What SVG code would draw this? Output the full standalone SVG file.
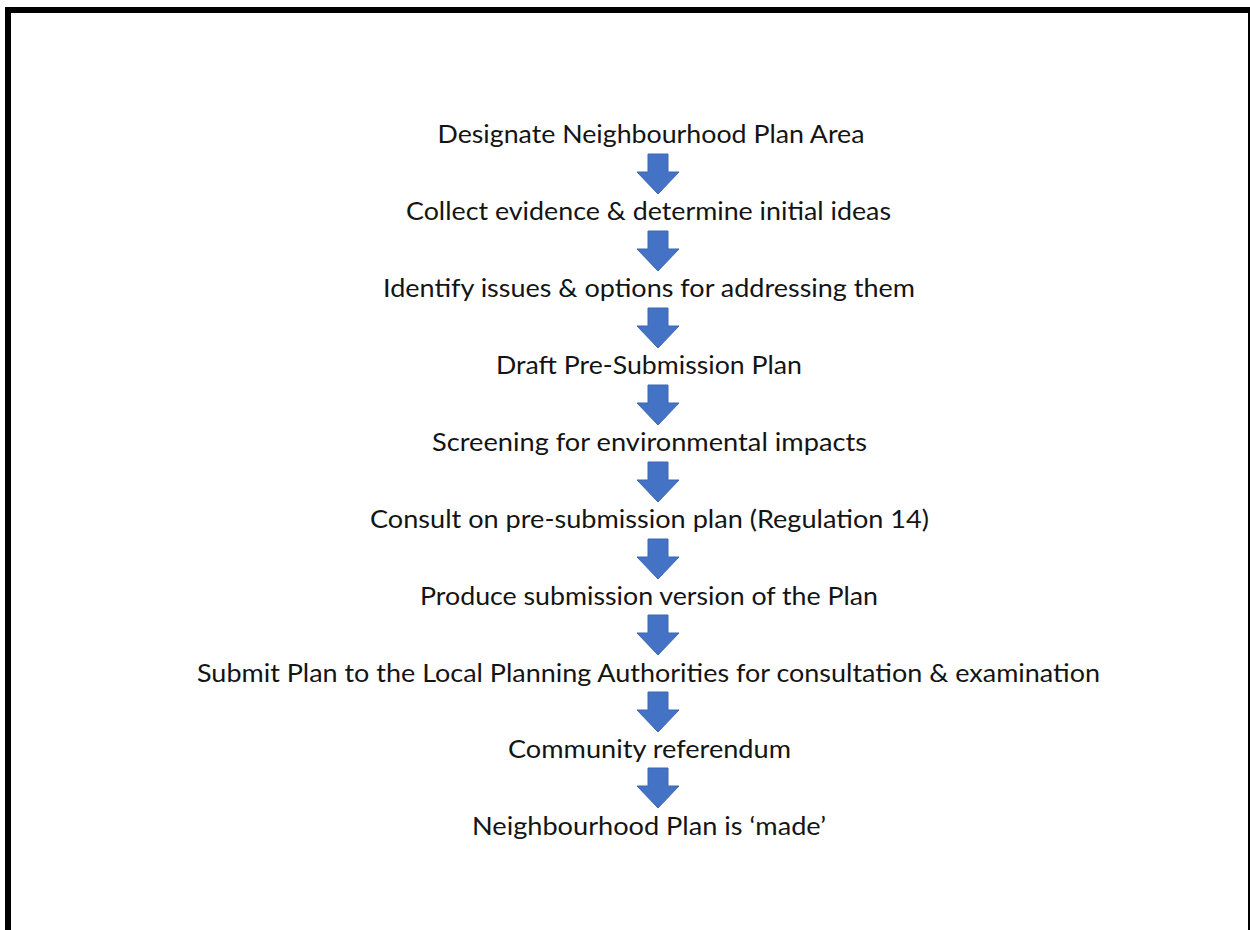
<svg xmlns="http://www.w3.org/2000/svg" xmlns:xlink="http://www.w3.org/1999/xlink" width="1250" height="930" viewBox="0 0 1250 930">
  <style>
    .lbl { font-family: "Lato", "Liberation Sans", sans-serif; font-size: 24.5px; fill: #141414; text-anchor: middle; }
    .arrow { fill: #4472C4; stroke: #3d67b3; stroke-width: 1; }
  </style>
  <defs>
    <path id="arr" d="M -10,0 H 10 V 18 H 21 L 0,40 L -21,18 H -10 Z"/>
  </defs>
  <rect x="0" y="0" width="1250" height="930" fill="#ffffff"/>
  <path d="M 8,930 V 10 H 1251 V 930" fill="none" stroke="#000000" stroke-width="6"/>

  <g id="connectors">
    <use xlink:href="#arr" class="arrow" x="658" y="154"/>
    <use xlink:href="#arr" class="arrow" x="658" y="231"/>
    <use xlink:href="#arr" class="arrow" x="658" y="308"/>
    <use xlink:href="#arr" class="arrow" x="658" y="385"/>
    <use xlink:href="#arr" class="arrow" x="658" y="462"/>
    <use xlink:href="#arr" class="arrow" x="658" y="539"/>
    <use xlink:href="#arr" class="arrow" x="658" y="615"/>
    <use xlink:href="#arr" class="arrow" x="658" y="692"/>
    <use xlink:href="#arr" class="arrow" x="658" y="768"/>
  </g>

  <g id="n1"><text class="lbl" x="651" y="143" textLength="427" lengthAdjust="spacingAndGlyphs">Designate Neighbourhood Plan Area</text></g>
  <g id="n2"><text class="lbl" x="648.5" y="220" textLength="485" lengthAdjust="spacingAndGlyphs">Collect evidence &amp; determine initial ideas</text></g>
  <g id="n3"><text class="lbl" x="649" y="297" textLength="532" lengthAdjust="spacingAndGlyphs">Identify issues &amp; options for addressing them</text></g>
  <g id="n4"><text class="lbl" x="649" y="374" textLength="306" lengthAdjust="spacingAndGlyphs">Draft Pre-Submission Plan</text></g>
  <g id="n5"><text class="lbl" x="649.5" y="451" textLength="435" lengthAdjust="spacingAndGlyphs">Screening for environmental impacts</text></g>
  <g id="n6"><text class="lbl" x="649.5" y="528" textLength="559" lengthAdjust="spacingAndGlyphs">Consult on pre-submission plan (Regulation 14)</text></g>
  <g id="n7"><text class="lbl" x="649" y="605" textLength="458" lengthAdjust="spacingAndGlyphs">Produce submission version of the Plan</text></g>
  <g id="n8"><text class="lbl" x="648.5" y="682" textLength="903" lengthAdjust="spacingAndGlyphs">Submit Plan to the Local Planning Authorities for consultation &amp; examination</text></g>
  <g id="n9"><text class="lbl" x="649.5" y="758" textLength="283" lengthAdjust="spacingAndGlyphs">Community referendum</text></g>
  <g id="n10"><text class="lbl" x="649" y="835" textLength="354" lengthAdjust="spacingAndGlyphs">Neighbourhood Plan is ‘made’</text></g>
</svg>
